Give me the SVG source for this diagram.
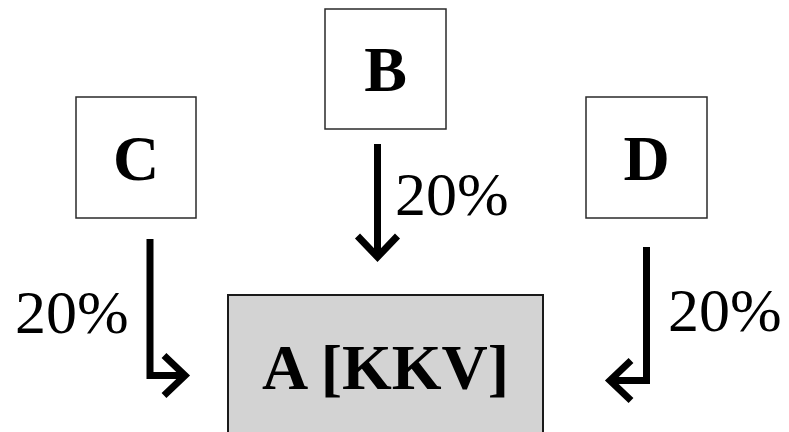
<svg xmlns="http://www.w3.org/2000/svg" width="789" height="432" viewBox="0 0 789 432">
<style>
.box{fill:#ffffff;stroke:#2a2a2a;stroke-width:1.5}
.boxA{fill:#d3d3d3;stroke:#1a1a1a;stroke-width:2}
.lbl{font-family:"Liberation Serif","Times New Roman",serif;font-weight:bold;font-size:64px;fill:#000;text-anchor:middle}
.pct{font-family:"Liberation Serif","Times New Roman",serif;font-size:62px;fill:#000}
.conn{fill:none;stroke:#000;stroke-width:7;stroke-linejoin:miter}
</style>
<defs>
<marker id="chev" markerUnits="userSpaceOnUse" viewBox="-30 -30 60 60" markerWidth="60" markerHeight="60" refX="0" refY="0" orient="auto" overflow="visible">
<path d="M-21,-20 L0,0 L-21,20" fill="none" stroke="#000" stroke-width="7" stroke-linejoin="miter"/>
</marker>
</defs>
<rect width="789" height="432" fill="#ffffff"/>
<g id="nodeA">
<rect class="boxA" x="228" y="295" width="315" height="150"/>
<text class="lbl" x="385.5" y="389">A [KKV]</text>
</g>
<g id="nodeB">
<rect class="box" x="325" y="9" width="121" height="120"/>
<text class="lbl" x="385.5" y="91">B</text>
</g>
<g id="nodeC">
<rect class="box" x="76" y="97" width="120" height="121"/>
<text class="lbl" x="136" y="180">C</text>
</g>
<g id="nodeD">
<rect class="box" x="586" y="97" width="121" height="121"/>
<text class="lbl" x="646.5" y="180">D</text>
</g>
<g id="connectors">
<path class="conn" d="M377.5,144 V257" marker-end="url(#chev)"/>
<text class="pct" x="395" y="215">20%</text>
<path class="conn" d="M150,239 V375.5 H185" marker-end="url(#chev)"/>
<text class="pct" x="15" y="333">20%</text>
<path class="conn" d="M646.5,247 V380.5 H610" marker-end="url(#chev)"/>
<text class="pct" x="668" y="331">20%</text>
</g>
</svg>
